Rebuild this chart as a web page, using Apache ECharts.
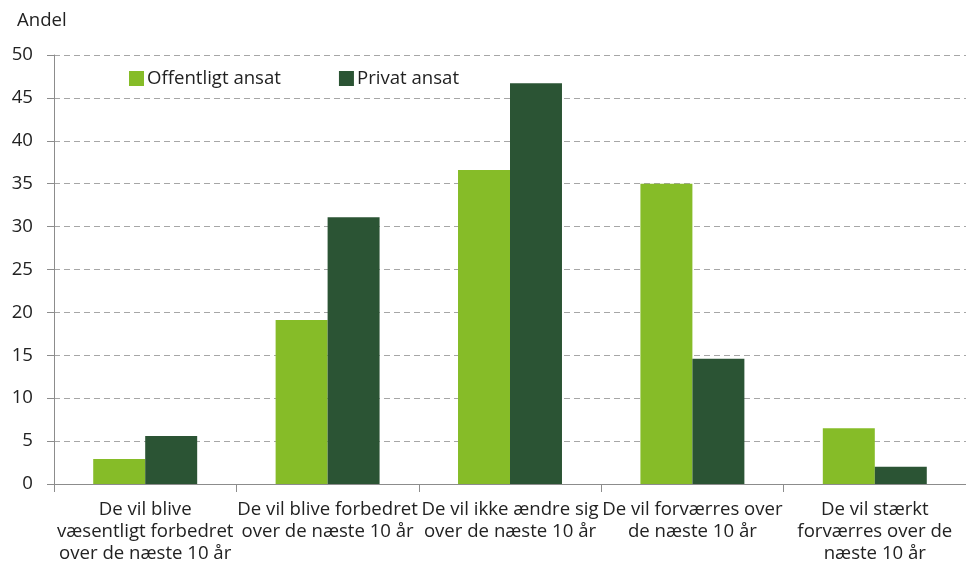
<!DOCTYPE html>
<html>
<head>
<meta charset="utf-8">
<script src="https://cdn.jsdelivr.net/npm/echarts@6/dist/echarts.min.js"></script>
<style>
  html, body { margin: 0; padding: 0; background: #fff; }
  #chart { width: 966px; height: 569px; }
</style>
</head>
<body>
<div id="chart"></div>
<script>
// kategorier og værdier
var categories = [
  'De vil blive\nvæsentligt forbedret\nover de næste 10 år',
  'De vil blive forbedret\nover de næste 10 år',
  'De vil ikke ændre sig\nover de næste 10 år',
  'De vil forværres over\nde næste 10 år',
  'De vil stærkt\nforværres over de\nnæste 10 år'
];
var offentligt = [2.9, 19.1, 36.6, 35.0, 6.5];
var privat = [5.6, 31.1, 46.7, 14.6, 2.0];
var seriesNames = ['Offentligt ansat', 'Privat ansat'];
var yTicks = { min: 0, max: 50, interval: 5 };

var myChart = echarts.init(document.getElementById('chart'));
var font = '"Open Sans", "Noto Sans", sans-serif';
var fs = 18.6;

var option = {
  animation: false,
  textStyle: { fontFamily: font },
  grid: { left: 54, right: -3, top: 55, bottom: 85 },
  legend: {
    left: 124,
    top: 64,
    itemWidth: 15,
    itemHeight: 15,
    itemGap: 58,
    icon: 'rect',
    textStyle: { fontSize: fs, color: '#222', fontFamily: font, padding: [0, 0, 0, -2] },
    data: seriesNames
  },
  xAxis: {
    type: 'category',
    data: categories,
    axisLine: { lineStyle: { color: '#8c8c8c', width: 1 } },
    axisTick: { show: true, length: 8, lineStyle: { color: '#8c8c8c' } },
    axisLabel: {
      interval: 0,
      fontSize: fs,
      color: '#222',
      lineHeight: 22,
      margin: 15,
      fontFamily: font
    }
  },
  yAxis: {
    type: 'value',
    name: 'Andel',
    nameLocation: 'end',
    nameGap: 25,
    nameTextStyle: { fontSize: fs, color: '#222', align: 'left', padding: [0, 0, 0, -37], fontFamily: font },
    min: yTicks.min,
    max: yTicks.max,
    interval: yTicks.interval,
    axisLine: { show: true, lineStyle: { color: '#8c8c8c' } },
    axisTick: { show: true, length: 7, lineStyle: { color: '#8c8c8c' } },
    axisLabel: { fontSize: fs, color: '#222', margin: 21, fontFamily: font },
    splitLine: { show: true, lineStyle: { color: '#a6a6a6', type: [6, 4], width: 1.2 } }
  },
  series: [
    {
      name: seriesNames[0],
      type: 'bar',
      data: offentligt,
      barGap: '0%',
      barCategoryGap: '43%',
      itemStyle: { color: '#86bc28' }
    },
    {
      name: seriesNames[1],
      type: 'bar',
      data: privat,
      barGap: '0%',
      barCategoryGap: '43%',
      itemStyle: { color: '#2b5434' }
    }
  ]
};

option && myChart.setOption(option);
</script>
</body>
</html>
